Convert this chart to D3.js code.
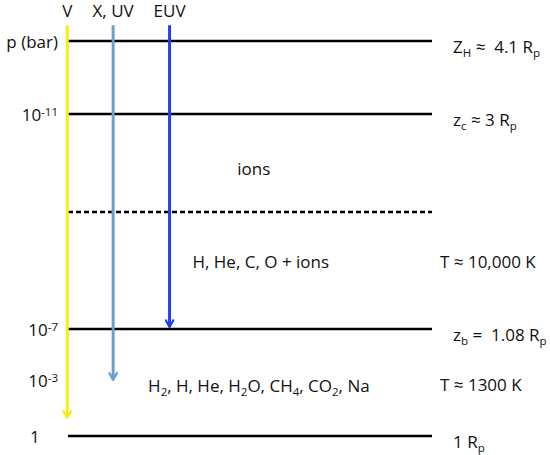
<!DOCTYPE html>
<html>
<head>
<meta charset="utf-8">
<script src="https://cdn.jsdelivr.net/npm/d3@7"></script>
<style>
body { margin: 0; background: #fff; }
text { font-family: "Open Sans", sans-serif; fill: #111; white-space: pre; }
</style>
</head>
<body>
<svg id="s" width="550" height="455"></svg>
<script>
// levels: depth (0 = top of atmosphere, 100 = 1 Rp)
var levelDepth = [0, 18.5, 43.3, 72.9, 100];
var levelDashed = [false, false, true, false, false];
var pressureLabels = [["p (bar)", ""], ["10", "-11"], ["", ""], ["10", "-7"], ["1", ""]];
var pressureExtra = [["10", "-3", 86.1]];
var radiusLabels = [
  [["Z", ""], ["H", "sub"], [" \u2248  4.1 R", ""], ["p", "sub"]],
  [["z", ""], ["c", "sub"], [" \u2248 3 R", ""], ["p", "sub"]],
  [],
  [["z", ""], ["b", "sub"], [" =  1.08 R", ""], ["p", "sub"]],
  [["1 R", ""], ["p", "sub"]]
];

// radiation bands
var bands = ["V", "X, UV", "EUV"];
var bandX = [-0.2, 12.4, 27.9];
var bandDepth = [95.4, 85.8, 72.4];
var bandColor = ["#f5ee14", "#6d9ecf", "#1f3ff5"];

// region labels
var regionText = [
  [["ions", ""]],
  [["H, He, C, O + ions", ""]],
  [["H", ""], ["2", "sub"], [", H, He, H", ""], ["2", "sub"], ["O, CH", ""], ["4", "sub"], [", CO", ""], ["2", "sub"], [", Na", ""]]
];
var regionX = [46.5, 34.2, 22];
var regionDepth = [32.4, 55.9, 87.3];
var tempText = ["T \u2248 10,000 K", "T \u2248 1300 K"];
var tempDepth = [55.9, 87.1];

var svg = d3.select("#s");
var x = d3.scaleLinear().domain([0, 100]).range([68, 432]);
var y = d3.scaleLinear().domain([0, 100]).range([41, 436]);
var fs = 17;

bands.forEach(function(b, i) {
  svg.append("marker").attr("id", "m" + i)
    .attr("viewBox", "0 0 10 10").attr("refX", 9).attr("refY", 5)
    .attr("markerWidth", 10).attr("markerHeight", 10)
    .attr("markerUnits", "userSpaceOnUse").attr("orient", "auto")
    .append("path").attr("d", "M1.5,0.8 L9,5 L1.5,9.2")
    .attr("fill", "none").attr("stroke", bandColor[i]).attr("stroke-width", 2.2);
});

// horizontal levels
svg.selectAll("line.lev").data(levelDepth).enter().append("line")
  .attr("class", "lev")
  .attr("x1", x(0)).attr("x2", x(100))
  .attr("y1", function(d) { return y(d); }).attr("y2", function(d) { return y(d); })
  .attr("stroke", "#000").attr("stroke-width", 2.5)
  .attr("stroke-dasharray", function(d, i) { return levelDashed[i] ? "5,3" : null; });

// radiation arrows
svg.selectAll("line.band").data(bands).enter().append("line")
  .attr("class", "band")
  .attr("x1", function(d, i) { return x(bandX[i]); })
  .attr("x2", function(d, i) { return x(bandX[i]); })
  .attr("y1", y(-4)).attr("y2", function(d, i) { return y(bandDepth[i]); })
  .attr("stroke", function(d, i) { return bandColor[i]; })
  .attr("stroke-width", 3)
  .attr("marker-end", function(d, i) { return "url(#m" + i + ")"; });

svg.selectAll("text.band").data(bands).enter().append("text")
  .attr("class", "band")
  .attr("x", function(d, i) { return x(bandX[i]); }).attr("y", 17)
  .attr("text-anchor", "middle").attr("font-size", fs)
  .text(function(d) { return d; });

function rich(sel, parts) {
  parts.forEach(function(p) {
    var t = sel.append("tspan").text(p[0]);
    if (p[1] === "sub") t.attr("baseline-shift", "-4").attr("font-size", 11.5);
    if (p[1] === "sup") t.attr("baseline-shift", "5").attr("font-size", 11.5);
  });
}

// pressure labels on left
levelDepth.forEach(function(d, i) {
  var lab = pressureLabels[i];
  if (!lab[0]) return;
  var last = i === levelDepth.length - 1;
  var t = svg.append("text").attr("x", last ? 30 : 58).attr("y", y(d) + 7)
    .attr("text-anchor", last ? "start" : "end").attr("font-size", fs);
  rich(t, [[lab[0], ""], [lab[1], "sup"]]);
});
pressureExtra.forEach(function(p) {
  var t = svg.append("text").attr("x", 58).attr("y", y(p[2]) + 6)
    .attr("text-anchor", "end").attr("font-size", fs);
  rich(t, [[p[0], ""], [p[1], "sup"]]);
});

// radius labels on right
levelDepth.forEach(function(d, i) {
  if (!radiusLabels[i].length) return;
  var t = svg.append("text").attr("x", 453).attr("y", y(d) + 12).attr("font-size", fs);
  rich(t, radiusLabels[i]);
});

// region labels
regionText.forEach(function(parts, i) {
  var t = svg.append("text").attr("x", x(regionX[i])).attr("y", y(regionDepth[i]) + 6)
    .attr("font-size", fs);
  rich(t, parts);
});
tempText.forEach(function(s, i) {
  svg.append("text").attr("x", 440).attr("y", y(tempDepth[i]) + 6)
    .attr("font-size", fs).text(s);
});
</script>
</body>
</html>
